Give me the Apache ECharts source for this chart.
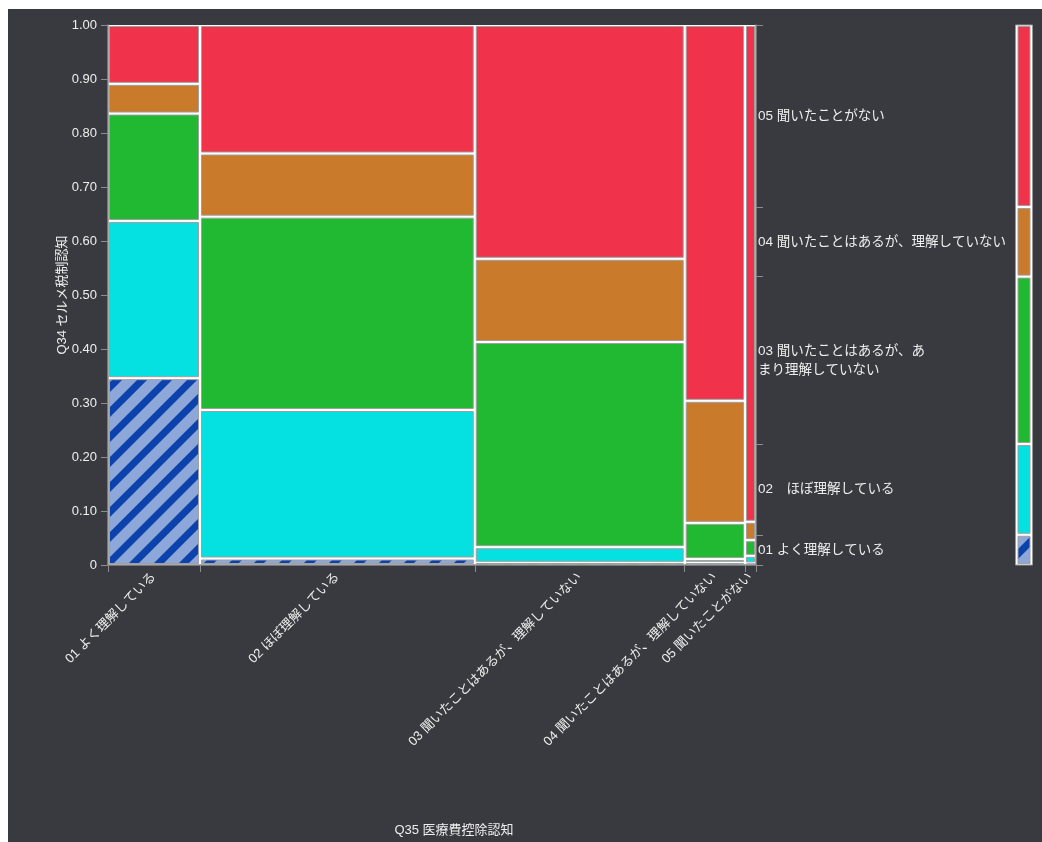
<!DOCTYPE html>
<html>
<head>
<meta charset="utf-8">
<script src="https://cdn.jsdelivr.net/npm/echarts@6/dist/echarts.min.js"></script>
<style>
  html, body { margin: 0; padding: 0; background: #ffffff; }
  #chart { position: absolute; left: 8px; top: 9px; width: 1034px; height: 833px; }
</style>
</head>
<body>
<div id="chart"></div>
<script>
// ---- data ----
const q35Labels = [
  '01 よく理解している',
  '02 ほぼ理解している',
  '03 聞いたことはあるが、理解していない',
  '04 聞いたことはあるが、理解していない',
  '05 聞いたことがない'
];
const q34Labels = [
  '01 よく理解している',
  '02　ほぼ理解している',
  '03 聞いたことはあるが、あ\nまり理解していない',
  '04 聞いたことはあるが、理解していない',
  '05 聞いたことがない'
];
// share of each Q35 column (widths)
const q35Share = [0.142, 0.424, 0.324, 0.093, 0.017];
// conditional share of each Q34 answer inside each Q35 column
const q34_01 = [0.346, 0.012, 0.004, 0.004, 0.003];
const q34_02 = [0.291, 0.275, 0.029, 0.007, 0.014];
const q34_03 = [0.199, 0.358, 0.380, 0.067, 0.029];
const q34_04 = [0.055, 0.117, 0.154, 0.226, 0.034];
const q34_05 = [0.109, 0.238, 0.433, 0.696, 0.920];

const rows = [q34_01, q34_02, q34_03, q34_04, q34_05];

// ---- derived ----
const colBounds = [0];
q35Share.forEach(s => colBounds.push(colBounds[colBounds.length - 1] + s));
colBounds[colBounds.length - 1] = 1;
const colMids = q35Share.map((s, i) => colBounds[i] + s / 2);

const cells = [];
q35Share.forEach((w, c) => {
  let acc = 0;
  rows.forEach((row, r) => {
    cells.push([colBounds[c], colBounds[c + 1], acc, acc + row[c], r]);
    acc += row[c];
  });
});

const marginal = rows.map(row => row.reduce((s, v, c) => s + v * q35Share[c], 0));
const totalM = marginal.reduce((a, b) => a + b, 0);
const rowBounds = [0];
marginal.forEach(m => rowBounds.push(rowBounds[rowBounds.length - 1] + m / totalM));
rowBounds[rowBounds.length - 1] = 1;
const rowMids = marginal.map((m, i) => (rowBounds[i] + rowBounds[i + 1]) / 2);
const margCells = marginal.map((m, r) => [rowBounds[r], rowBounds[r + 1], r]);

// ---- styles ----
const fills = ['#8ea7d9', '#05e1e1', '#22b932', '#c97a2a', '#f0324a'];
const HATCH_DARK = '#0b42ab';
const HATCH_PERIOD = 25, HATCH_BAND = 10;
const FONT = "Helvetica, Arial, 'Liberation Sans', 'Noto Sans CJK JP', sans-serif";
const AX = '#8c8c8c';
const TXT = '#eeeeee';
const EDGE = '#a0a0a0';

// clip polygon by half-plane  sign*(x+y-k) >= 0
function clipHalf(poly, k, sign) {
  const out = [];
  const f = p => sign * (p[0] + p[1] - k);
  for (let i = 0; i < poly.length; i++) {
    const a = poly[i], b = poly[(i + 1) % poly.length];
    const fa = f(a), fb = f(b);
    if (fa >= 0) out.push(a);
    if ((fa >= 0) !== (fb >= 0)) {
      const t = fa / (fa - fb);
      out.push([a[0] + t * (b[0] - a[0]), a[1] + t * (b[1] - a[1])]);
    }
  }
  return out;
}

function cellShape(left, right, top, bottom, r) {
  let w = right - left, h = bottom - top;
  if (h < 0.8) { const c = (top + bottom) / 2; top = c - 0.4; h = 0.8; bottom = top + h; }
  if (w < 0.8) { w = 0.8; right = left + w; }
  if (r !== 0) {
    return {
      type: 'rect',
      shape: { x: left, y: top, width: w, height: h },
      style: { fill: fills[r], stroke: EDGE, lineWidth: 1 }
    };
  }
  const children = [{
    type: 'rect', shape: { x: left, y: top, width: w, height: h },
    style: { fill: fills[0] }
  }];
  const rect = [[left, top], [right, top], [right, bottom], [left, bottom]];
  const k0 = Math.floor((left + top) / HATCH_PERIOD) - 1;
  const k1 = Math.ceil((right + bottom) / HATCH_PERIOD) + 1;
  for (let k = k0; k <= k1; k++) {
    let poly = clipHalf(rect, k * HATCH_PERIOD, 1);
    if (poly.length < 3) continue;
    poly = clipHalf(poly, k * HATCH_PERIOD + HATCH_BAND, -1);
    if (poly.length < 3) continue;
    children.push({ type: 'polygon', shape: { points: poly }, style: { fill: HATCH_DARK } });
  }
  children.push({
    type: 'rect', shape: { x: left, y: top, width: w, height: h },
    style: { fill: 'none', stroke: EDGE, lineWidth: 1 }
  });
  return { type: 'group', children };
}

function idxOf(arr, v) {
  let best = 0, d = Infinity;
  arr.forEach((a, i) => { const dd = Math.abs(a - v); if (dd < d) { d = dd; best = i; } });
  return best;
}

const chart = echarts.init(document.getElementById('chart'));
chart.setOption({
  backgroundColor: '#393a3f',
  animation: false,
  textStyle: { fontFamily: FONT },
  grid: [
    { left: 100, top: 16, width: 648, height: 540, show: true, backgroundColor: '#ffffff', borderWidth: 0, outerBoundsMode: 'none' },
    { left: 1007.5, top: 16, width: 17, height: 540, show: true, backgroundColor: '#ffffff', borderColor: '#999999', borderWidth: 1, outerBoundsMode: 'none' }
  ],
  xAxis: [
    {
      gridIndex: 0, type: 'value', min: 0, max: 1,
      name: 'Q35 医療費控除認知', nameLocation: 'middle', nameGap: 259, nameMoveOverlap: false,
      nameTextStyle: { color: TXT, fontSize: 13, fontFamily: FONT, padding: [0, 0, 0, 44] },
      axisLine: { show: true, lineStyle: { color: AX, width: 1.5 } },
      axisTick: { show: true, length: 7, lineStyle: { color: AX }, customValues: colBounds },
      splitLine: { show: false },
      axisLabel: {
        customValues: colMids, rotate: 45, margin: 10, color: TXT, fontSize: 13, fontFamily: FONT,
        formatter: v => q35Labels[idxOf(colMids, v)]
      }
    },
    { gridIndex: 1, type: 'value', min: 0, max: 1, show: false }
  ],
  yAxis: [
    {
      gridIndex: 0, type: 'value', min: 0, max: 1, interval: 0.1, position: 'left',
      name: 'Q34 セルメ税制認知', nameLocation: 'middle', nameRotate: 90, nameGap: 39, nameMoveOverlap: false,
      nameTextStyle: { color: TXT, fontSize: 13, fontFamily: FONT },
      axisLine: { show: true, lineStyle: { color: AX, width: 1.5 } },
      axisTick: { show: true, length: 7, lineStyle: { color: AX } },
      splitLine: { show: false },
      axisLabel: {
        margin: 11, color: TXT, fontSize: 13, fontFamily: FONT,
        formatter: v => (Math.abs(v) < 1e-9 ? '0' : v.toFixed(2))
      }
    },
    {
      gridIndex: 0, type: 'value', min: 0, max: 1, position: 'right',
      axisLine: { show: true, lineStyle: { color: AX, width: 1.5 } },
      axisTick: { show: true, length: 7, lineStyle: { color: AX }, customValues: rowBounds },
      splitLine: { show: false },
      axisLabel: {
        customValues: rowMids, margin: 2, color: TXT, fontSize: 13.5, fontFamily: FONT, lineHeight: 19,
        formatter: v => q34Labels[idxOf(rowMids, v)]
      }
    },
    { gridIndex: 1, type: 'value', min: 0, max: 1, show: false }
  ],
  series: [
    {
      type: 'custom', xAxisIndex: 0, yAxisIndex: 0,
      encode: { x: [0, 1], y: [2, 3] },
      data: cells,
      renderItem: (params, api) => {
        const p0 = api.coord([api.value(0), api.value(2)]);
        const p1 = api.coord([api.value(1), api.value(3)]);
        return cellShape(p0[0] + 1.5, p1[0] - 1.5, p1[1] + 1.5, p0[1] - 1.5, api.value(4));
      }
    },
    {
      type: 'custom', xAxisIndex: 1, yAxisIndex: 2,
      encode: { y: [0, 1] },
      data: margCells,
      renderItem: (params, api) => {
        const p0 = api.coord([0, api.value(0)]);
        const p1 = api.coord([1, api.value(1)]);
        return cellShape(p0[0] + 2.5, p1[0] - 2.5, p1[1] + 1.5, p0[1] - 1.5, api.value(2));
      }
    }
  ]
});
</script>
</body>
</html>
